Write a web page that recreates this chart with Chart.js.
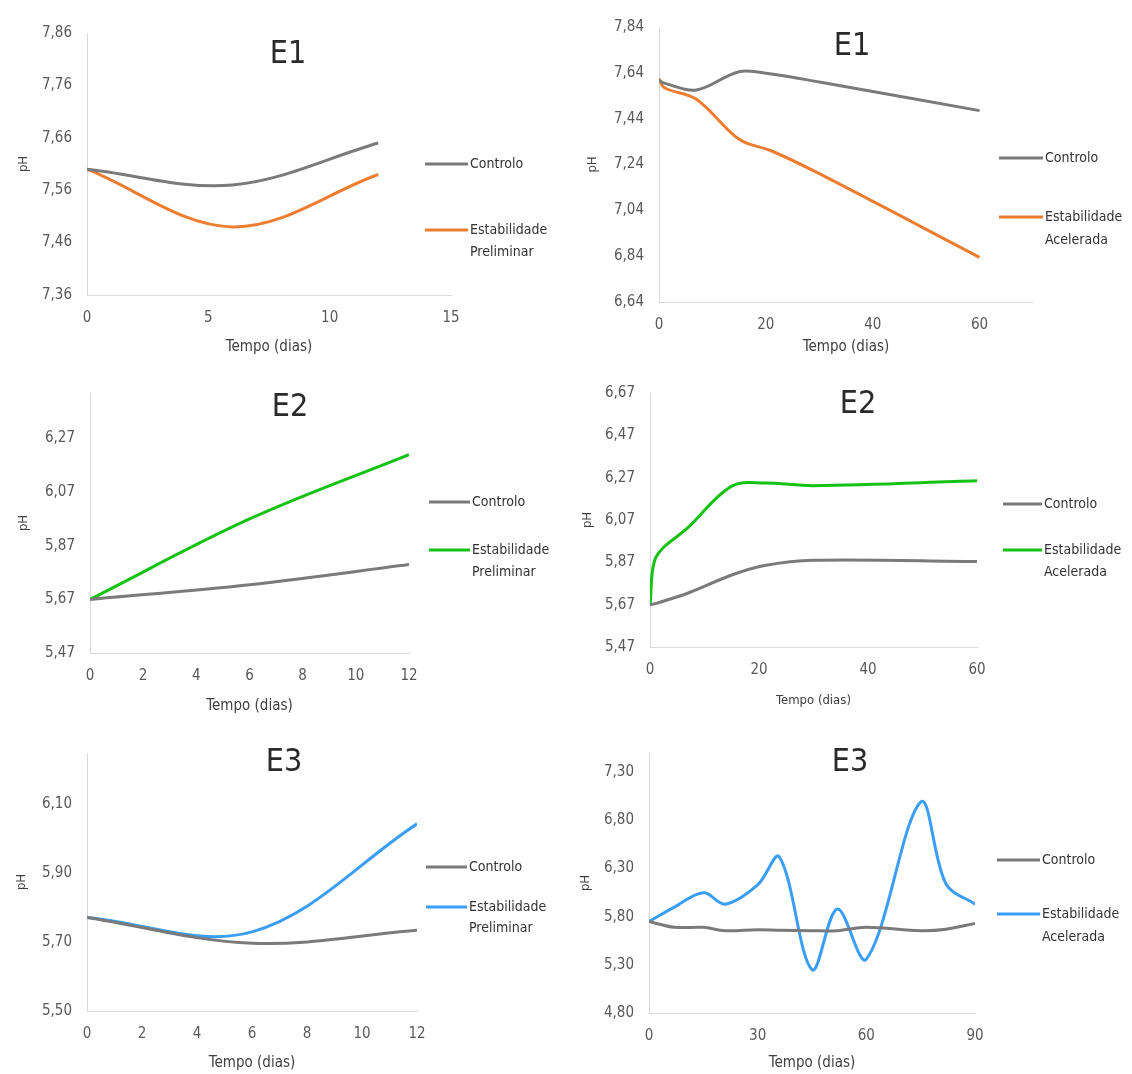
<!DOCTYPE html>
<html><head><meta charset="utf-8">
<script src="https://cdn.jsdelivr.net/npm/chart.js@4.4.1/dist/chart.umd.min.js"></script>
<style>
html,body{margin:0;padding:0;background:#fff;}
body{width:1132px;height:1074px;position:relative;overflow:hidden;}
.cell{position:absolute;}
canvas{display:block;}
</style></head><body>
<div class="cell" style="left:0;top:0;"><canvas id="c1" width="566" height="360"></canvas></div>
<div class="cell" style="left:566px;top:0;"><canvas id="c2" width="566" height="360"></canvas></div>
<div class="cell" style="left:0;top:360px;"><canvas id="c3" width="566" height="360"></canvas></div>
<div class="cell" style="left:566px;top:360px;"><canvas id="c4" width="566" height="360"></canvas></div>
<div class="cell" style="left:0;top:720px;"><canvas id="c5" width="566" height="354"></canvas></div>
<div class="cell" style="left:566px;top:720px;"><canvas id="c6" width="566" height="354"></canvas></div>
<script>
// ---------- DATA ----------
const seriesControlo = 'Controlo';
const seriesPrelim = 'Estabilidade Preliminar';
const seriesAcel = 'Estabilidade Acelerada';
const xTitle = 'Tempo (dias)';
const yTitle = 'pH';

// E1 - preliminary
const titleE1 = 'E1';
const days1 = [0, 6, 12];
const ctrl1 = [7.60, 7.57, 7.65];
const prel1 = [7.60, 7.49, 7.59];
const yTicks1 = [7.36, 7.46, 7.56, 7.66, 7.76, 7.86];
const xTicks1 = [0, 5, 10, 15];

// E1 - accelerated
const days2 = [0, 1, 7, 15, 21, 30, 60];
const ctrl2 = [7.607, 7.595, 7.565, 7.645, 7.635, 7.60, 7.475];
const acel2 = [7.615, 7.575, 7.525, 7.35, 7.30, 7.20, 6.835];
const yTicks2 = [6.64, 6.84, 7.04, 7.24, 7.44, 7.64, 7.84];
const xTicks2 = [0, 20, 40, 60];

// E2 - preliminary
const titleE2 = 'E2';
const days3 = [0, 6, 12];
const ctrl3 = [5.67, 5.725, 5.80];
const prel3 = [5.67, 5.97, 6.21];
const yTicks3 = [5.47, 5.67, 5.87, 6.07, 6.27];
const xTicks3 = [0, 2, 4, 6, 8, 10, 12];

// E2 - accelerated
const days4 = [0, 1, 7, 15, 21, 30, 60];
const ctrl4 = [5.67, 5.675, 5.725, 5.81, 5.855, 5.88, 5.874];
const acel4 = [5.67, 5.89, 6.035, 6.23, 6.245, 6.232, 6.255];
const yTicks4 = [5.47, 5.67, 5.87, 6.07, 6.27, 6.47, 6.67];
const xTicks4 = [0, 20, 40, 60];

// E3 - preliminary
const titleE3 = 'E3';
const days5 = [0, 6, 12];
const ctrl5 = [5.772, 5.697, 5.735];
const prel5 = [5.772, 5.73, 6.044];
const yTicks5 = [5.50, 5.70, 5.90, 6.10];
const xTicks5 = [0, 2, 4, 6, 8, 10, 12];

// E3 - accelerated
const days6 = [0, 7, 15, 21, 30, 36, 45, 52, 60, 75, 82, 90];
const ctrl6 = [5.75, 5.69, 5.69, 5.655, 5.665, 5.66, 5.655, 5.655, 5.69, 5.655, 5.67, 5.73];
const acel6 = [5.75, 5.90, 6.05, 5.93, 6.13, 6.42, 5.25, 5.88, 5.36, 6.99, 6.14, 5.93];
const yTicks6 = [4.80, 5.30, 5.80, 6.30, 6.80, 7.30];
const xTicks6 = [0, 30, 60, 90];

// ---------- STYLE ----------
const FONT = "'Liberation Sans Narrow', 'DejaVu Sans Condensed', 'Liberation Sans', sans-serif";
const GREY = '#7a7a7a';
const ORANGE = '#ED7D31';
const GREEN = '#13C213';
const BLUE = '#3A9EF7';

const overlay = {
  id: 'overlay',
  afterDraw(chart, args, o) {
    const ctx = chart.ctx;
    ctx.save();
    ctx.font = `300 32px ${FONT}`;
    ctx.fillStyle = '#2a2a2a';
    ctx.textAlign = 'center';
    ctx.textBaseline = 'middle';
    ctx.fillText(o.title, o.tx, o.ty);
    ctx.font = `14px ${FONT}`;
    ctx.textAlign = 'left';
    chart.data.datasets.forEach((ds, i) => {
      const y = o.ly[i];
      ctx.strokeStyle = ds.borderColor;
      ctx.lineWidth = 3;
      ctx.beginPath();
      ctx.moveTo(o.lx1, y);
      ctx.lineTo(o.lx2, y);
      ctx.stroke();
      ctx.fillStyle = '#333333';
      const words = ds.label.split(' ');
      words.forEach((w, k) => ctx.fillText(w, o.lx2 + 2, y + k * o.lgap));
    });
    ctx.restore();
  }
};

function makeChart(id, c) {
  const ds = c.series.map(s => ({
    label: s.label,
    data: c.days.map((d, i) => ({x: d, y: s.values[i]})),
    borderColor: s.color,
    backgroundColor: s.color,
    borderWidth: 3,
    pointRadius: 0,
    tension: 0.35,
    fill: false
  }));
  new Chart(document.getElementById(id), {
    type: 'line',
    data: {datasets: ds},
    plugins: [overlay],
    options: {
      responsive: false,
      animation: false,
      devicePixelRatio: 1,
      layout: {padding: {left: 0, top: c.T, right: c.R, bottom: 0}},
      plugins: {
        legend: {display: false},
        tooltip: {enabled: false},
        title: {display: false},
        overlay: c.ov
      },
      scales: {
        x: {
          type: 'linear', min: c.xmin, max: c.xmax,
          afterBuildTicks: s => { s.ticks = c.xTicks.map(v => ({value: v})); },
          afterFit: s => { s.height = c.Hx; },
          grid: {display: false, drawTicks: false},
          border: {display: true, color: '#d9d9d9', width: 1},
          ticks: {padding: 14, color: '#595959', font: {family: FONT, size: 15}, maxRotation: 0, callback: v => String(v)},
          title: {display: true, text: xTitle, color: '#404040', font: {family: FONT, size: c.xtSize}, padding: {top: 0, bottom: c.xtPad}}
        },
        y: {
          type: 'linear', min: c.ymin, max: c.ymax,
          afterBuildTicks: s => { s.ticks = c.yTicks.map(v => ({value: v})); },
          afterFit: s => { s.width = c.Wy; },
          grid: {display: false, drawTicks: false},
          border: {display: true, color: '#d9d9d9', width: 1},
          ticks: {padding: 15, color: '#595959', font: {family: FONT, size: 15}, callback: v => Number(v).toFixed(2).replace('.', ',')},
          title: {display: true, text: yTitle, color: '#404040', font: {family: FONT, size: 13}, padding: {top: c.ytPad, bottom: 0}}
        }
      }
    }
  });
}

makeChart('c1', {
  days: days1, xTicks: xTicks1, yTicks: yTicks1, xmin: 0, xmax: 15, ymin: 7.36, ymax: 7.86,
  series: [{label: seriesControlo, values: ctrl1, color: GREY}, {label: seriesPrelim, values: prel1, color: ORANGE}],
  T: 33, R: 115, Wy: 87, Hx: 65, xtSize: 15, xtPad: 4, ytPad: 16,
  ov: {title: titleE1, tx: 288, ty: 55, lx1: 425, lx2: 468, ly: [164, 230], lgap: 22}
});
makeChart('c2', {
  days: days2, xTicks: xTicks2, yTicks: yTicks2, xmin: 0, xmax: 70, ymin: 6.64, ymax: 7.84,
  series: [{label: seriesControlo, values: ctrl2, color: GREY}, {label: seriesAcel, values: acel2, color: ORANGE}],
  T: 27, R: 99, Wy: 93, Hx: 58, xtSize: 15, xtPad: 4, ytPad: 19,
  ov: {title: titleE1, tx: 286, ty: 47, lx1: 433, lx2: 477, ly: [158, 217], lgap: 23}
});
makeChart('c3', {
  days: days3, xTicks: xTicks3, yTicks: yTicks3, xmin: 0, xmax: 12, ymin: 5.47, ymax: 6.44,
  series: [{label: seriesControlo, values: ctrl3, color: GREY}, {label: seriesPrelim, values: prel3, color: GREEN}],
  T: 33, R: 157, Wy: 90, Hx: 67, xtSize: 15, xtPad: 5, ytPad: 16,
  ov: {title: titleE2, tx: 290, ty: 48, lx1: 429, lx2: 470, ly: [142, 190], lgap: 22}
});
makeChart('c4', {
  days: days4, xTicks: xTicks4, yTicks: yTicks4, xmin: 0, xmax: 60, ymin: 5.47, ymax: 6.67,
  series: [{label: seriesControlo, values: ctrl4, color: GREY}, {label: seriesAcel, values: acel4, color: GREEN}],
  T: 33, R: 155, Wy: 84, Hx: 73, xtSize: 13, xtPad: 12, ytPad: 14,
  ov: {title: titleE2, tx: 292, ty: 45, lx1: 437, lx2: 476, ly: [144, 190], lgap: 22}
});
makeChart('c5', {
  days: days5, xTicks: xTicks5, yTicks: yTicks5, xmin: 0, xmax: 12, ymin: 5.50, ymax: 6.25,
  series: [{label: seriesControlo, values: ctrl5, color: GREY}, {label: seriesPrelim, values: prel5, color: BLUE}],
  T: 33, R: 149, Wy: 87, Hx: 63, xtSize: 15, xtPad: 2, ytPad: 14,
  ov: {title: titleE3, tx: 284, ty: 43, lx1: 426, lx2: 467, ly: [147, 187], lgap: 21}
});
makeChart('c6', {
  days: days6, xTicks: xTicks6, yTicks: yTicks6, xmin: 0, xmax: 90, ymin: 4.80, ymax: 7.50,
  series: [{label: seriesControlo, values: ctrl6, color: GREY}, {label: seriesAcel, values: acel6, color: BLUE}],
  T: 33, R: 157, Wy: 83, Hx: 61, xtSize: 15, xtPad: 2, ytPad: 12,
  ov: {title: titleE3, tx: 284, ty: 43, lx1: 431, lx2: 474, ly: [140, 194], lgap: 23}
});
</script>
</body></html>
